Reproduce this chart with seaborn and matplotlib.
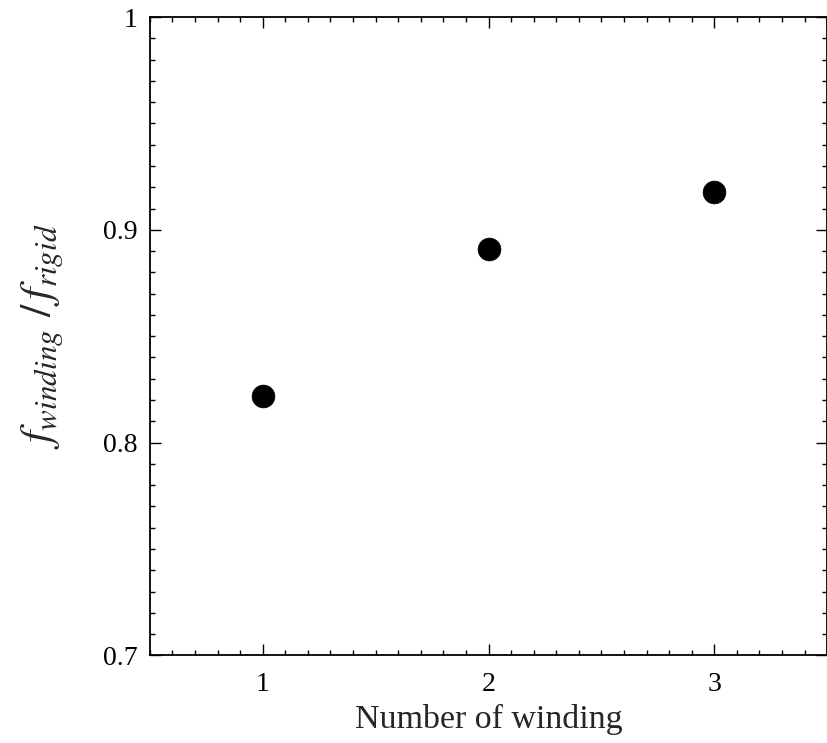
import matplotlib
matplotlib.use("Agg")
import matplotlib.pyplot as plt
from matplotlib.ticker import MultipleLocator
import seaborn as sns
import pandas as pd

# Frequency ratio versus number of windings
windings = [1, 2, 3]
freq_ratio = [0.822, 0.891, 0.918]

df = pd.DataFrame({"windings": windings, "ratio": freq_ratio})

sns.set_theme(style="ticks")
plt.rcParams["font.family"] = ["Liberation Serif", "DejaVu Serif"]
plt.rcParams["mathtext.fontset"] = "stix"

fig = plt.figure(figsize=(8.28, 7.43), dpi=100)
ax = fig.add_axes([0.181, 0.118, 0.818, 0.859])

sns.scatterplot(data=df, x="windings", y="ratio", ax=ax, color="black",
                s=270, edgecolor="black", linewidth=0.5, zorder=3)

ax.set_xlim(0.5, 3.5)
ax.set_ylim(0.7, 1.0)
ax.xaxis.set_major_locator(MultipleLocator(1))
ax.xaxis.set_minor_locator(MultipleLocator(0.1))
ax.yaxis.set_minor_locator(MultipleLocator(0.01))
ax.set_yticks([0.7, 0.8, 0.9, 1.0])
ax.set_yticklabels(["0.7", "0.8", "0.9", "1"])

ax.tick_params(which="both", direction="in", top=True, right=True,
               labelsize=20, colors="black")
ax.tick_params(which="major", length=8, width=1)
ax.tick_params(which="minor", length=3.5, width=1)
ax.tick_params(axis="x", which="major", pad=12)
ax.tick_params(axis="y", which="major", pad=9)

for side in ax.spines.values():
    side.set_linewidth(1.3)
    side.set_color("black")

ax.set_xlabel("Number of winding", fontsize=24.5, labelpad=5)
ax.set_ylabel(r"$f_{winding}\ /\, f_{rigid}$", fontsize=32, labelpad=27)

fig.savefig("out.png", dpi=100)
